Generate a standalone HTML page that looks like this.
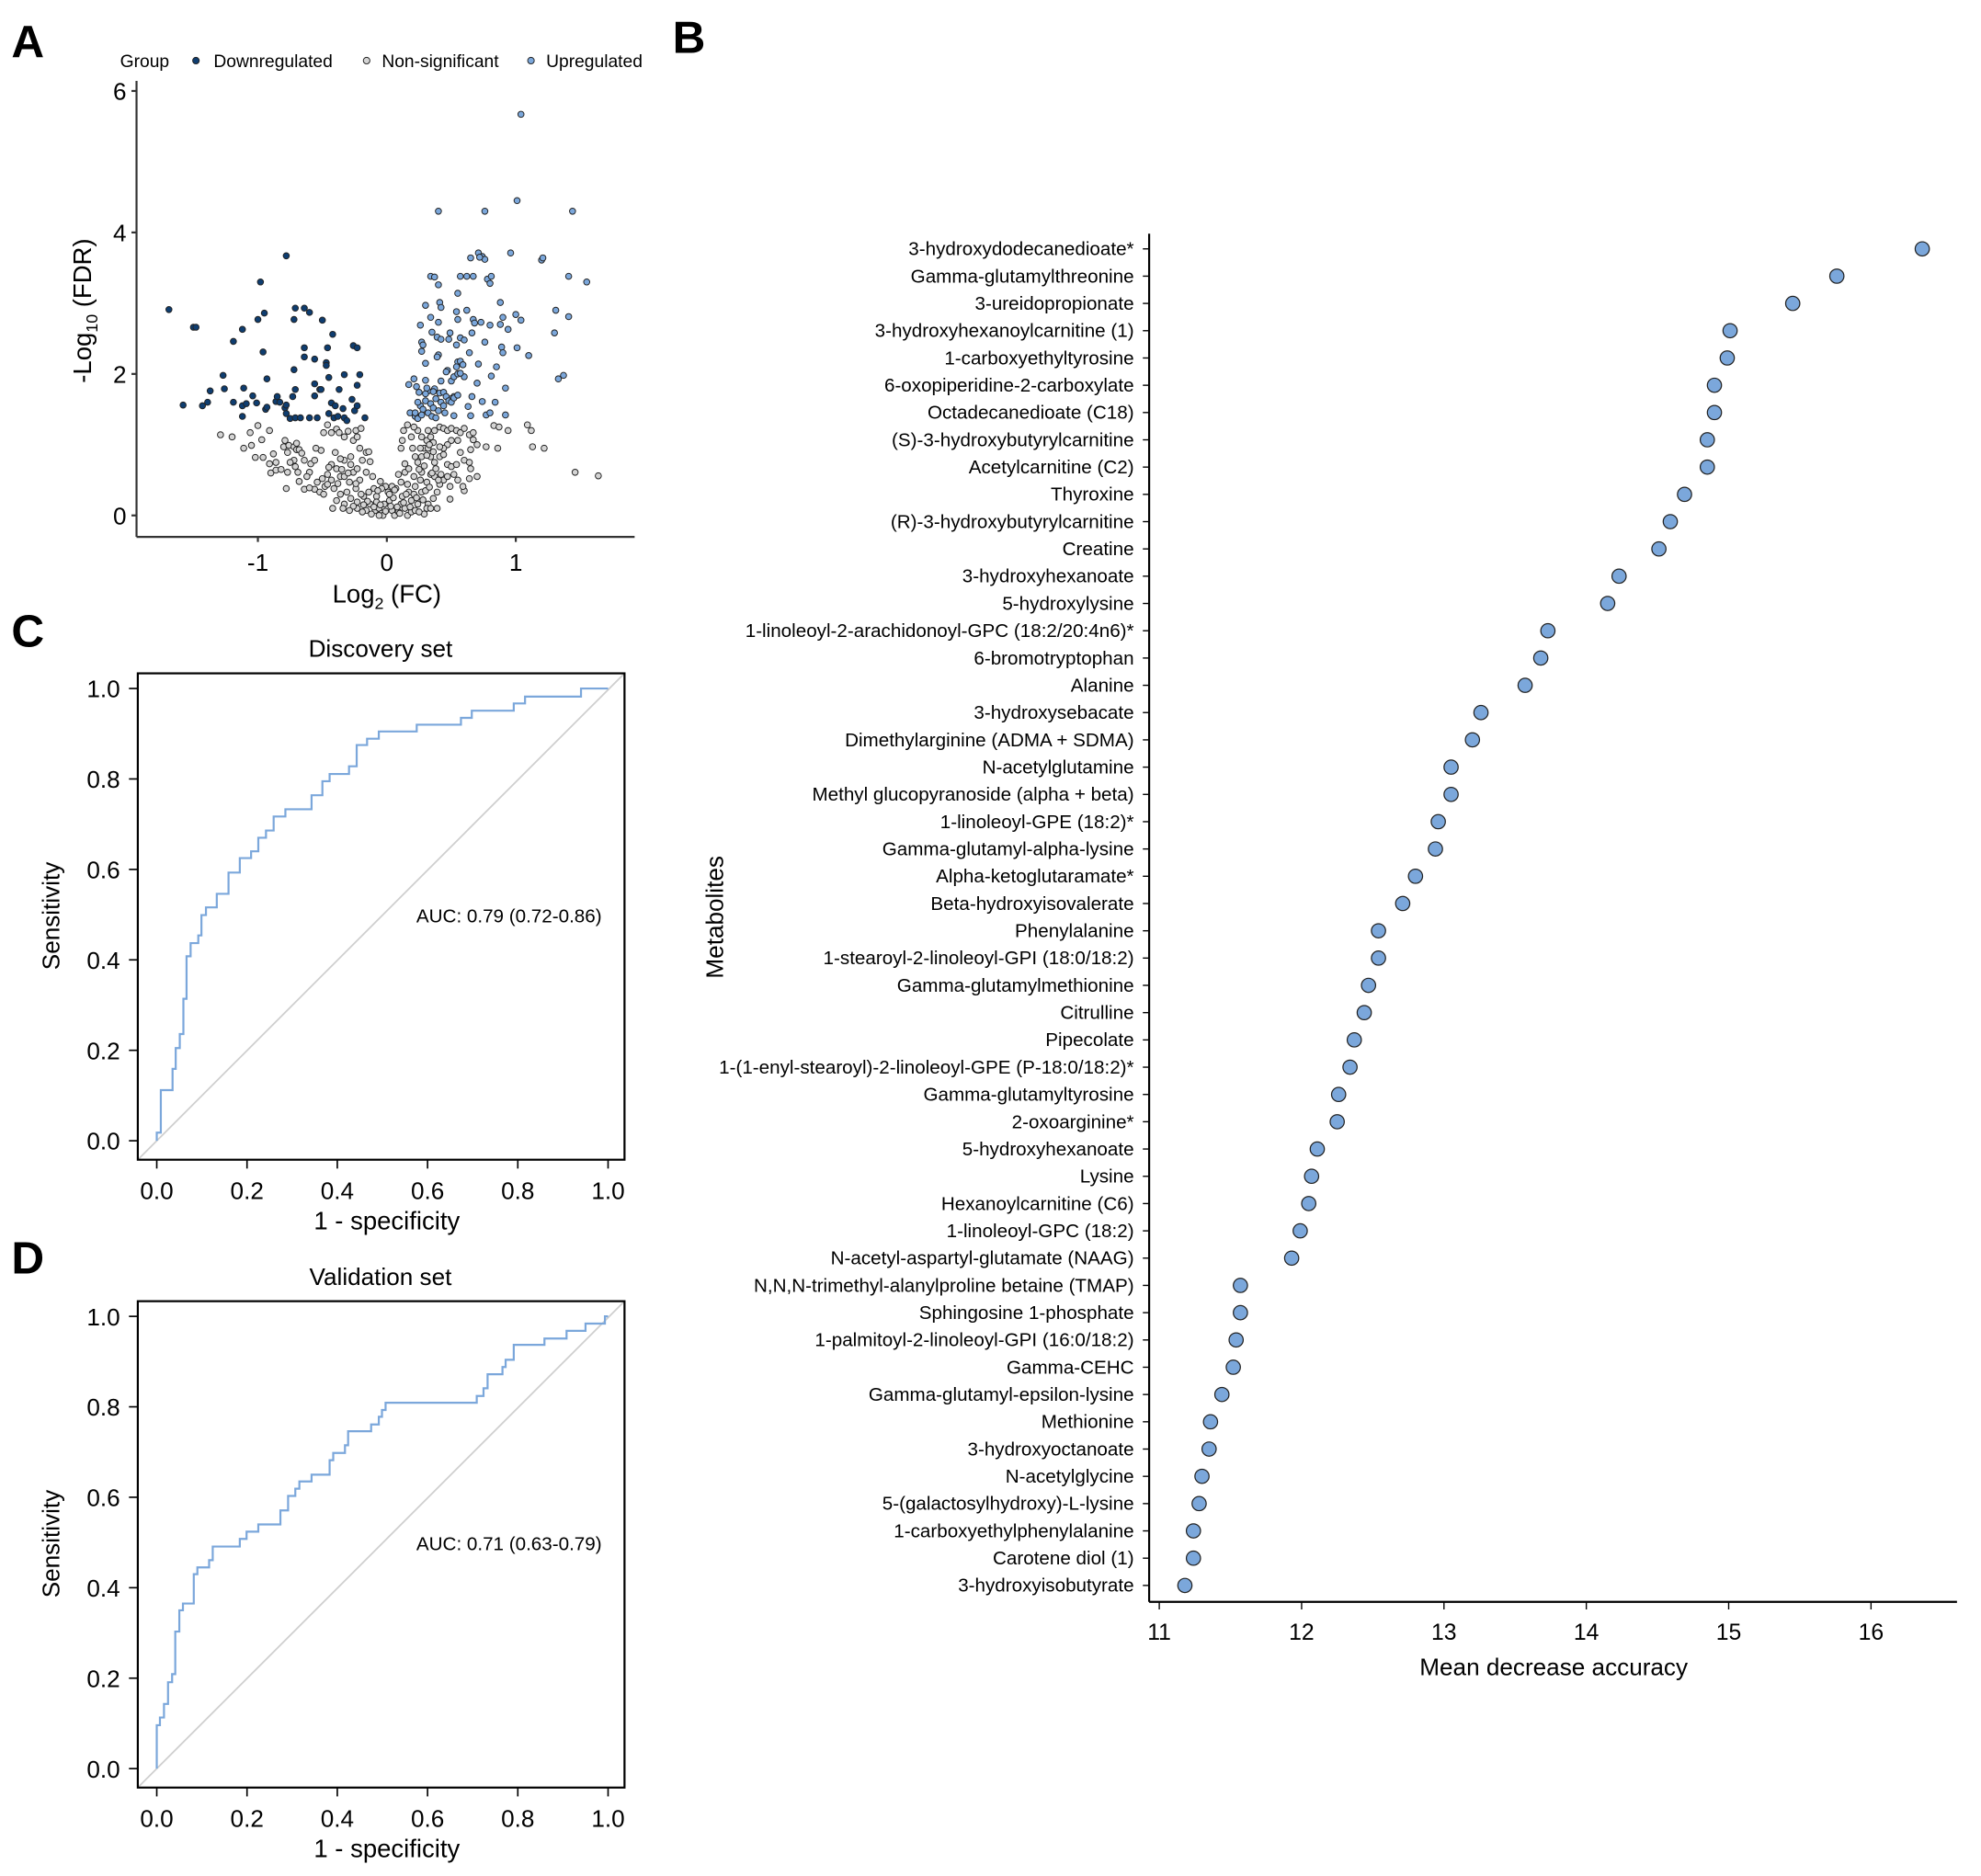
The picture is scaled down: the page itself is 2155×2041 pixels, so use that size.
<!DOCTYPE html>
<html><head><meta charset="utf-8">
<style>
html,body{margin:0;padding:0;background:#fff;}
svg{display:block;font-family:"Liberation Sans",Arial,sans-serif;}
</style></head>
<body>
<svg id="fig" width="2155" height="2041" viewBox="0 0 1567 1485" preserveAspectRatio="none" xmlns="http://www.w3.org/2000/svg">
<rect width="1567" height="1485" fill="#fff"/>
<g font-weight="bold" font-size="36" fill="#000">
<text x="9" y="45">A</text>
<text x="532" y="42">B</text>
<text x="9" y="512">C</text>
<text x="9" y="1008">D</text>
</g>
<g id="volcano"></g>
<g id="rocC"></g>
<g id="rocD"></g>
<g id="imp"></g>
</svg>
<script>
const NS="http://www.w3.org/2000/svg";
function mk(parent,tag,attrs,text){const e=document.createElementNS(NS,tag);for(const k in attrs)e.setAttribute(k,attrs[k]);if(text!==undefined)e.textContent=text;parent.appendChild(e);return e;}

/* ---------- Volcano data ---------- */
const downX=[-1.69,-1.58,-1.50,-1.48,-1.43,-1.39,-1.37,-1.27,-1.26,-1.19,-1.19,-1.12,-1.12,-1.11,-1.12,-1.09,-1.04,-1.01,-1.00,-0.98,-0.96,-0.95,-0.94,-0.93,-0.93,-0.86,-0.85,-0.83,-0.79,-0.78,-0.78,-0.78,-0.75,-0.73,-0.72,-0.72,-0.71,-0.71,-0.71,-0.67,-0.64,-0.64,-0.64,-0.60,-0.60,-0.56,-0.56,-0.56,-0.54,-0.52,-0.51,-0.50,-0.47,-0.47,-0.46,-0.45,-0.45,-0.43,-0.42,-0.41,-0.40,-0.38,-0.37,-0.34,-0.33,-0.33,-0.31,-0.27,-0.26,-0.25,-0.23,-0.23,-0.23,-0.21,-0.17];
const downY=[2.91,1.56,2.66,2.66,1.55,1.60,1.76,1.98,1.79,2.46,1.60,1.40,2.63,1.80,1.55,1.58,1.69,1.59,2.77,3.30,2.31,2.86,1.50,1.93,1.53,1.61,1.68,1.60,1.52,3.67,1.44,1.56,1.37,1.68,2.06,2.77,2.93,1.78,1.38,1.38,2.93,2.37,2.24,2.87,1.38,1.86,2.21,1.69,1.38,1.78,1.78,2.76,2.16,2.12,2.37,1.95,1.44,1.59,2.56,1.38,1.55,1.40,1.78,1.51,1.99,1.38,1.34,1.64,2.40,1.48,2.37,1.55,1.84,1.99,1.38];
const upX=[1.04,0.40,0.76,1.01,1.44,0.71,0.74,0.76,0.72,0.65,0.96,1.20,1.21,0.34,0.37,0.40,0.57,0.62,0.67,0.78,0.81,0.80,1.41,1.55,0.55,0.41,0.42,0.30,0.88,0.34,0.54,0.62,1.00,0.90,1.31,1.41,0.40,0.55,0.67,0.68,0.73,0.80,0.88,0.94,1.04,0.26,0.35,0.39,0.42,0.48,0.49,0.57,0.60,0.66,0.76,0.27,0.28,0.54,0.89,1.01,1.30,0.27,0.40,0.39,0.64,0.90,1.10,0.30,0.55,0.57,0.71,0.47,0.46,0.60,0.85,0.81,1.33,1.37,0.70,0.17,0.21,0.30,0.42,0.92,0.66,0.74,0.84,0.63,0.52,0.65,0.92,0.54,0.59,0.50,0.52,0.55,0.57,0.23,0.25,0.32,0.37,0.41,0.44,0.52,0.50,0.77,0.80,0.18,0.22,0.24,0.26,0.28,0.30,0.32,0.34,0.36,0.38,0.40,0.42,0.44,0.46,0.48,0.30,0.27,0.35,0.22,0.24,0.31,0.36,0.45,0.50,0.52,0.55,0.38];
const upY=[5.67,4.30,4.30,4.45,4.30,3.71,3.66,3.62,3.65,3.64,3.71,3.61,3.64,3.38,3.37,3.26,3.38,3.38,3.38,3.34,3.38,3.28,3.38,3.30,3.14,3.01,2.94,2.97,3.01,2.80,2.88,2.90,2.84,2.80,2.90,2.81,2.73,2.77,2.77,2.72,2.73,2.69,2.70,2.63,2.76,2.69,2.59,2.52,2.49,2.49,2.58,2.51,2.48,2.58,2.45,2.45,2.41,2.41,2.38,2.37,2.58,2.32,2.27,2.24,2.30,2.30,2.26,2.15,2.17,2.18,2.14,2.05,2.03,1.96,2.10,1.97,1.93,1.98,1.87,1.85,1.93,1.91,1.90,1.80,1.68,1.61,1.60,1.54,1.41,1.41,1.42,2.10,2.13,1.90,1.96,2.00,2.01,1.82,1.74,1.76,1.79,1.73,1.74,1.68,1.65,1.42,1.45,1.45,1.40,1.37,1.55,1.50,1.62,1.45,1.58,1.52,1.65,1.48,1.60,1.55,1.68,1.62,1.72,1.42,1.40,1.45,1.60,1.80,1.75,1.45,1.60,1.66,1.70,1.38];
const nsX=[-1.29,-1.20,-1.11,-1.05,-1.06,-1.00,-0.97,-1.02,-0.96,-0.91,-0.91,-0.88,-0.86,-0.90,-0.86,-0.79,-0.80,-0.77,-0.76,-0.72,-0.70,-0.68,-0.66,-0.64,-0.72,-0.71,-0.69,-0.77,-0.78,-0.68,-0.64,-0.60,-0.59,-0.56,-0.56,-0.60,-0.54,-0.52,-0.49,-0.51,-0.49,-0.46,-0.43,-0.39,-0.37,-0.33,-0.30,-0.24,-0.20,-0.26,-0.23,-0.21,-0.16,-0.13,-0.14,-0.19,-0.28,-0.33,-0.36,-0.40,-0.43,-0.39,-0.36,-0.43,-0.46,-0.48,-0.46,-0.41,-0.33,-0.29,-0.26,-0.23,-0.16,-0.21,-0.24,-0.31,-0.36,-0.39,-0.33,-0.28,-0.23,-0.18,-0.14,-0.10,-0.08,-0.13,-0.16,-0.19,-0.23,-0.26,-0.29,-0.42,-0.34,-0.09,-0.06,-0.04,-0.03,-0.06,-0.08,-0.02,0.01,0.02,0.04,0.06,0.09,0.11,0.12,0.07,0.04,-0.01,-0.04,0.09,0.14,0.11,0.16,0.17,0.19,0.14,0.16,0.19,0.22,0.24,0.21,0.22,0.26,0.27,0.21,0.17,0.14,0.11,0.12,0.13,0.16,0.19,0.20,0.22,0.24,0.27,0.29,0.31,0.27,0.24,0.21,0.32,0.34,0.37,0.41,0.44,0.47,0.50,0.54,0.57,0.60,0.64,0.67,0.67,0.65,0.55,0.50,0.47,0.44,0.41,0.36,0.32,0.34,0.37,0.41,0.44,0.47,0.50,0.54,0.57,0.60,0.64,0.70,0.77,0.86,0.83,0.87,0.94,1.09,1.12,1.13,1.22,1.46,1.64,0.70,0.65,0.64,0.60,0.49,0.44,0.41,0.39,0.36,0.32,0.31,0.34,0.39,0.29,0.27,0.31,0.34,0.37,0.42,0.47,0.52,0.55,0.59,0.49,-0.12,-0.10,-0.05,-0.01,0.03,0.05,0.08,0.10,0.13,-0.15,-0.18,-0.20,0.02,-0.07,0.06,0.15,0.18,0.23,0.25,0.28,0.30,0.33,0.35,0.38,0.40,0.29,0.31,0.26,0.33,0.36,0.25,-0.24,-0.30,-0.35,-0.38,-0.45,-0.50,-0.62,-0.75,-0.82,-0.70,-0.55,-0.28,-0.11,-0.05];
const nsY=[1.14,1.11,0.95,0.99,1.17,1.27,1.07,0.82,0.82,1.20,0.73,0.87,0.75,0.60,0.64,1.06,0.97,0.89,0.99,0.97,0.93,0.93,0.88,0.78,0.78,0.69,0.61,0.61,0.38,0.48,0.37,0.61,0.73,0.78,0.37,0.39,0.47,0.33,0.30,0.92,1.17,1.28,1.17,1.22,1.17,1.11,1.19,1.20,1.23,1.06,1.11,0.95,0.89,0.76,0.90,0.78,0.83,0.78,0.80,0.89,0.72,0.66,0.55,0.50,0.58,0.41,0.44,0.38,0.55,0.47,0.61,0.66,0.61,0.50,0.38,0.33,0.30,0.21,0.16,0.24,0.19,0.27,0.33,0.38,0.27,0.16,0.07,0.05,0.10,0.13,0.07,0.10,0.10,0.07,0.10,0.03,0.00,0.00,0.19,0.16,0.33,0.21,0.07,0.00,0.05,0.16,0.27,0.38,0.41,0.41,0.38,0.58,0.61,0.47,0.44,0.33,0.21,0.10,0.00,0.05,0.07,0.16,0.30,0.41,0.50,0.61,0.55,0.66,0.73,0.95,1.06,1.20,1.28,1.11,0.95,0.83,0.75,0.83,0.95,1.06,1.11,1.20,1.25,1.20,1.11,1.20,1.25,1.23,1.20,1.23,1.20,1.17,1.23,1.14,1.17,1.07,0.93,1.06,1.06,1.00,0.95,0.97,1.03,0.95,0.83,0.75,0.83,0.86,0.72,0.69,0.72,0.89,0.78,0.75,1.00,0.97,0.95,1.27,1.25,1.20,1.28,1.20,0.97,0.95,0.61,0.56,0.55,0.66,0.52,0.35,0.23,0.50,0.44,0.33,0.24,0.16,0.10,0.10,0.10,0.02,0.33,0.47,0.58,0.55,0.58,0.55,0.58,0.50,0.41,0.41,0.02,0.12,0.15,0.06,0.13,0.25,0.12,0.03,0.18,0.20,0.15,0.30,0.30,0.35,0.36,0.30,0.12,0.25,0.05,0.22,0.35,0.40,0.60,0.66,0.50,0.70,0.85,0.95,1.00,0.90,0.65,0.45,0.60,0.65,0.45,0.68,0.52,0.55,0.75,0.65,1.02,0.95,0.72,0.55,0.48];
const volXTicks=[-1,0,1];
const volYTicks=[0,2,4,6];

(function(){
const g=document.getElementById('volcano');
const sx=v=>306+v*102, sy=v=>408-v*56;
const ax=mk(g,'g',{stroke:'#333','stroke-width':1.6});
let l;
l=mk(ax,'line',{x1:108,y1:64,x2:108,y2:425});

l=mk(ax,'line',{x1:108,y1:425,x2:502,y2:425});

volYTicks.forEach(t=>{
 mk(ax,'line',{x1:104,y1:sy(t),x2:108,y2:sy(t)});
 const tx=mk(g,'text',{x:100,y:sy(t)+7,'text-anchor':'end','font-size':19},String(t));
 
});
volXTicks.forEach(t=>{
 mk(ax,'line',{x1:sx(t),y1:425,x2:sx(t),y2:429});
 const tx=mk(g,'text',{x:sx(t),y:452,'text-anchor':'middle','font-size':19},t<0?'-'+Math.abs(t):String(t));
 
});
let t=mk(g,'text',{x:306,y:477,'text-anchor':'middle','font-size':20});
t.innerHTML='Log<tspan font-size="13" dy="5">2</tspan><tspan dy="-5"> (FC)</tspan>';

t=mk(g,'text',{transform:'translate(72,246) rotate(-90)','text-anchor':'middle','font-size':20});
t.innerHTML='-Log<tspan font-size="13" dy="5">10</tspan><tspan dy="-5"> (FDR)</tspan>';

const pts=mk(g,'g',{stroke:'#222','stroke-width':0.7});
nsX.forEach((x,i)=>{const c=mk(pts,'circle',{cx:sx(x),cy:sy(nsY[i]),r:2.4,fill:'#d4d4d4'});
 });
downX.forEach((x,i)=>{const c=mk(pts,'circle',{cx:sx(x),cy:sy(downY[i]),r:2.4,fill:'#0e3d70'});
 });
upX.forEach((x,i)=>{const c=mk(pts,'circle',{cx:sx(x),cy:sy(upY[i]),r:2.4,fill:'#7ba7db'});
 });
const lg=mk(g,'g',{'font-size':14});

mk(lg,'text',{x:95,y:53},'Group');
[[155,169,'#0e3d70','Downregulated'],[290,302,'#d4d4d4','Non-significant'],[420,432,'#7ba7db','Upregulated']].forEach(e=>{
 const it=mk(lg,'g',{});
 
 mk(it,'circle',{cx:e[0],cy:48,r:2.6,fill:e[2],stroke:'#222','stroke-width':0.7});
 mk(it,'text',{x:e[1],y:53},e[3]);
});
})();

/* ---------- ROC data ---------- */
const rocC_fpr=[0,0.009,0.035,0.042,0.051,0.059,0.066,0.075,0.092,0.099,0.109,0.133,0.159,0.184,0.209,0.225,0.242,0.259,0.285,0.343,0.367,0.383,0.426,0.443,0.466,0.492,0.576,0.674,0.698,0.791,0.816,0.940];
const rocC_tpr=[0.018,0.112,0.159,0.205,0.236,0.314,0.408,0.437,0.454,0.499,0.516,0.546,0.593,0.625,0.640,0.670,0.686,0.717,0.733,0.764,0.795,0.811,0.828,0.875,0.889,0.905,0.920,0.935,0.951,0.967,0.982,1.0];
const rocD_fpr=[0,0.007,0.016,0.025,0.034,0.041,0.050,0.058,0.082,0.090,0.116,0.124,0.184,0.199,0.225,0.274,0.291,0.307,0.316,0.343,0.383,0.391,0.417,0.424,0.475,0.492,0.499,0.507,0.709,0.724,0.733,0.766,0.773,0.791,0.859,0.908,0.950,0.993];
const rocD_tpr=[0.096,0.113,0.143,0.191,0.209,0.303,0.35,0.365,0.43,0.445,0.461,0.491,0.508,0.524,0.54,0.571,0.603,0.619,0.635,0.65,0.682,0.698,0.715,0.746,0.761,0.778,0.793,0.809,0.824,0.841,0.872,0.888,0.904,0.937,0.951,0.968,0.984,1.0];
const rocTicks=[0,0.2,0.4,0.6,0.8,1.0];

function drawROC(id,top,title,fpr,tpr,auc){
 const g=document.getElementById(id);
 const bx0=109,bx1=494,by0=top,by1=top+385;
 const sx=v=>124+v*357, sy=v=>by1-15-v*358;
 let e=mk(g,'text',{x:301,y:top-13,'text-anchor':'middle','font-size':19},title);
 
 e=mk(g,'line',{x1:bx0,y1:by1,x2:bx1,y2:by0,stroke:'#cfcfcf','stroke-width':1.3});
 
 let d='M'+sx(0)+','+sy(0);
 fpr.forEach((f,i)=>{d+=' L'+sx(f)+','+sy(tpr[i]);const nf=i+1<fpr.length?fpr[i+1]:1;d+=' L'+sx(nf)+','+sy(tpr[i]);});
 e=mk(g,'path',{d:d,fill:'none',stroke:'#7ba7db','stroke-width':1.6});
 
 e=mk(g,'rect',{x:bx0,y:by0,width:bx1-bx0,height:by1-by0,fill:'none',stroke:'#000','stroke-width':1.6});
 
 rocTicks.forEach(t=>{
  mk(g,'line',{x1:102,y1:sy(t),x2:bx0,y2:sy(t),stroke:'#000','stroke-width':1.2});
  let tx=mk(g,'text',{x:95,y:sy(t)+7,'text-anchor':'end','font-size':19},t.toFixed(1));
  
  mk(g,'line',{x1:sx(t),y1:by1,x2:sx(t),y2:by1+7,stroke:'#000','stroke-width':1.2});
  tx=mk(g,'text',{x:sx(t),y:by1+31,'text-anchor':'middle','font-size':19},t.toFixed(1));
  
 });
 e=mk(g,'text',{x:306,y:by1+55,'text-anchor':'middle','font-size':20},'1 - specificity');
 
 e=mk(g,'text',{transform:'translate(47,'+(top+192)+') rotate(-90)','text-anchor':'middle','font-size':19},'Sensitivity');
 
 e=mk(g,'text',{x:476,y:top+197,'text-anchor':'end','font-size':15},auc);
 
}
drawROC('rocC',533,'Discovery set',rocC_fpr,rocC_tpr,'AUC: 0.79 (0.72-0.86)');
drawROC('rocD',1030,'Validation set',rocD_fpr,rocD_tpr,'AUC: 0.71 (0.63-0.79)');

/* ---------- Importance data ---------- */
const metabolites=["3-hydroxydodecanedioate*","Gamma-glutamylthreonine","3-ureidopropionate","3-hydroxyhexanoylcarnitine (1)","1-carboxyethyltyrosine","6-oxopiperidine-2-carboxylate","Octadecanedioate (C18)","(S)-3-hydroxybutyrylcarnitine","Acetylcarnitine (C2)","Thyroxine","(R)-3-hydroxybutyrylcarnitine","Creatine","3-hydroxyhexanoate","5-hydroxylysine","1-linoleoyl-2-arachidonoyl-GPC (18:2/20:4n6)*","6-bromotryptophan","Alanine","3-hydroxysebacate","Dimethylarginine (ADMA + SDMA)","N-acetylglutamine","Methyl glucopyranoside (alpha + beta)","1-linoleoyl-GPE (18:2)*","Gamma-glutamyl-alpha-lysine","Alpha-ketoglutaramate*","Beta-hydroxyisovalerate","Phenylalanine","1-stearoyl-2-linoleoyl-GPI (18:0/18:2)","Gamma-glutamylmethionine","Citrulline","Pipecolate","1-(1-enyl-stearoyl)-2-linoleoyl-GPE (P-18:0/18:2)*","Gamma-glutamyltyrosine","2-oxoarginine*","5-hydroxyhexanoate","Lysine","Hexanoylcarnitine (C6)","1-linoleoyl-GPC (18:2)","N-acetyl-aspartyl-glutamate (NAAG)","N,N,N-trimethyl-alanylproline betaine (TMAP)","Sphingosine 1-phosphate","1-palmitoyl-2-linoleoyl-GPI (16:0/18:2)","Gamma-CEHC","Gamma-glutamyl-epsilon-lysine","Methionine","3-hydroxyoctanoate","N-acetylglycine","5-(galactosylhydroxy)-L-lysine","1-carboxyethylphenylalanine","Carotene diol (1)","3-hydroxyisobutyrate"];
const mda=[16.36,15.76,15.45,15.01,14.99,14.90,14.90,14.85,14.85,14.69,14.59,14.51,14.23,14.15,13.73,13.68,13.57,13.26,13.20,13.05,13.05,12.96,12.94,12.80,12.71,12.54,12.54,12.47,12.44,12.37,12.34,12.26,12.25,12.11,12.07,12.05,11.99,11.93,11.57,11.57,11.54,11.52,11.44,11.36,11.35,11.30,11.28,11.24,11.24,11.18];
const impTicks=[11,12,13,14,15,16];

(function(){
 const g=document.getElementById('imp');
 const sx=v=>917+(v-11)*112.6;
 const rowY=i=>197+i*(1058/(metabolites.length-1));
 let e=mk(g,'line',{x1:909,y1:185,x2:909,y2:1268,stroke:'#000','stroke-width':1.6});
 
 e=mk(g,'line',{x1:909,y1:1268,x2:1548,y2:1268,stroke:'#000','stroke-width':1.6});
 
 metabolites.forEach((m,i)=>{
  const y=rowY(i);
  mk(g,'line',{x1:904,y1:y,x2:909,y2:y,stroke:'#000','stroke-width':1});
  let t=mk(g,'text',{x:897,y:y+5,'text-anchor':'end','font-size':15},m);
  
  let c=mk(g,'circle',{cx:sx(mda[i]),cy:y,r:5.6,fill:'#7ba7db',stroke:'#222','stroke-width':0.9});
  
 });
 impTicks.forEach(t=>{
  mk(g,'line',{x1:sx(t),y1:1268,x2:sx(t),y2:1274,stroke:'#000','stroke-width':1});
  let tx=mk(g,'text',{x:sx(t),y:1298,'text-anchor':'middle','font-size':18},String(t));
  
 });
 e=mk(g,'text',{x:1229,y:1326,'text-anchor':'middle','font-size':19},'Mean decrease accuracy');
 
 e=mk(g,'text',{transform:'translate(572,726) rotate(-90)','text-anchor':'middle','font-size':19},'Metabolites');
 
})();
</script>
</body></html>
